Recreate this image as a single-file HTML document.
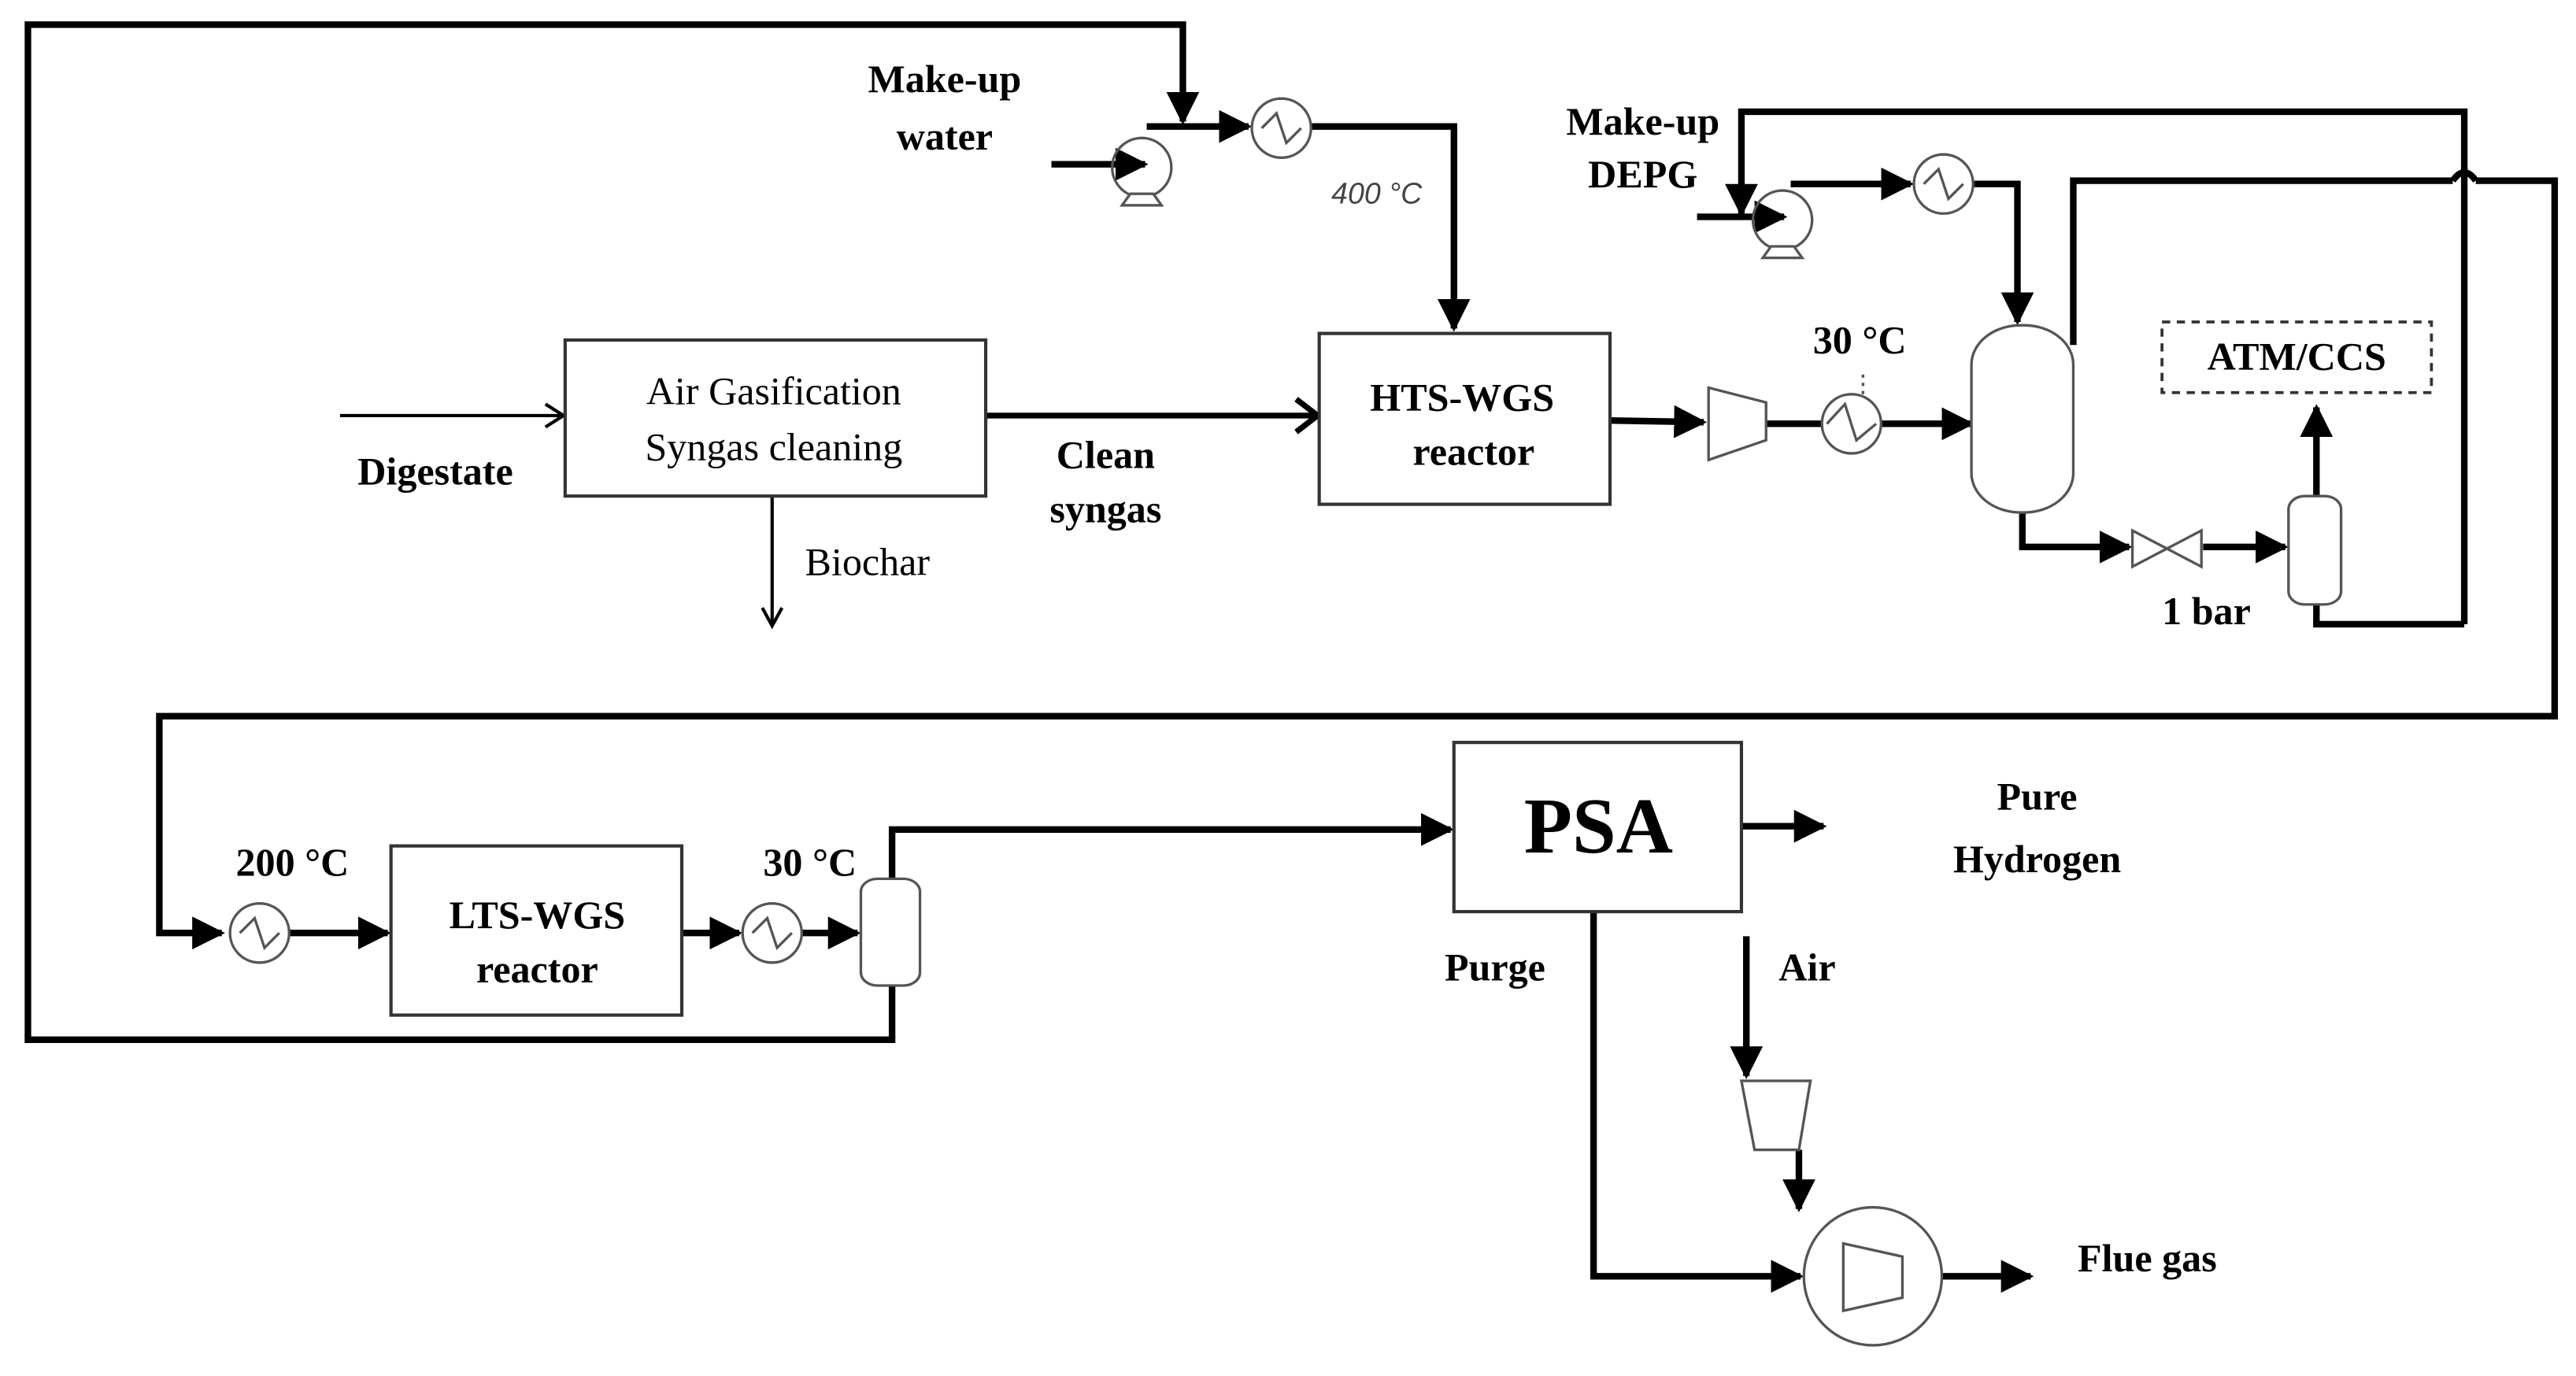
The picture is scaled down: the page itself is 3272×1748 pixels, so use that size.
<!DOCTYPE html>
<html><head><meta charset="utf-8"><style>html,body{margin:0;padding:0;background:#fff}svg{display:block}</style></head><body>
<svg width="3272" height="1748" viewBox="0 0 1568 837.7" preserveAspectRatio="none" xmlns="http://www.w3.org/2000/svg" font-family="'Liberation Serif',serif">
<defs>
<marker id="a" viewBox="0 0 10 10" refX="9" refY="5" markerWidth="5" markerHeight="5" orient="auto" markerUnits="strokeWidth"><path d="M0,0L10,5L0,10z" fill="#000"/></marker>
</defs>
<g fill="none" stroke="#000" stroke-width="4" stroke-linejoin="miter">
<polyline points="543,600 543,633 17,633 17,15 720,15 720,74" marker-end="url(#a)"/>
<line x1="640" y1="100" x2="697" y2="100" marker-end="url(#a)"/>
<polyline points="698,77 760,77" marker-end="url(#a)"/>
<polyline points="798,77 885,77 885,200" marker-end="url(#a)"/>
<line x1="980" y1="256" x2="1037" y2="257" marker-end="url(#a)"/>
<line x1="1075" y1="258" x2="1110" y2="258"/>
<line x1="1145" y1="258" x2="1200" y2="258" marker-end="url(#a)"/>
<polyline points="1500,380 1500,68 1060,68 1060,130" marker-end="url(#a)"/>
<line x1="1033" y1="132" x2="1086" y2="132" marker-end="url(#a)"/>
<line x1="1090" y1="112" x2="1163" y2="112" marker-end="url(#a)"/>
<polyline points="1201,112 1228,112 1228,196" marker-end="url(#a)"/>
<polyline points="1262,210 1262,110 1493,110"/>
<path d="M1493,110 Q1500,100 1507,110"/>
<polyline points="1507,110 1555,110 1555,436 97,436 97,568 135,568" marker-end="url(#a)"/>
<polyline points="1231,312 1231,333 1296,333" marker-end="url(#a)"/>
<line x1="1341" y1="333" x2="1391" y2="333" marker-end="url(#a)"/>
<polyline points="1410,368 1410,380 1500,380"/>
<line x1="1410" y1="302" x2="1410" y2="248" marker-end="url(#a)"/>
<line x1="176" y1="568" x2="236" y2="568" marker-end="url(#a)"/>
<line x1="415" y1="568" x2="450" y2="568" marker-end="url(#a)"/>
<line x1="488" y1="568" x2="522" y2="568" marker-end="url(#a)"/>
<polyline points="543,535 543,505 883,505" marker-end="url(#a)"/>
<line x1="1060" y1="503" x2="1110" y2="503" marker-end="url(#a)"/>
<polyline points="970,555 970,777 1096,777" marker-end="url(#a)"/>
<line x1="1063" y1="570" x2="1063" y2="655" marker-end="url(#a)"/>
<line x1="1095" y1="700" x2="1095" y2="736" marker-end="url(#a)"/>
<line x1="1182" y1="777" x2="1236" y2="777" marker-end="url(#a)"/>
</g>
<g fill="none" stroke="#000" stroke-width="2">
<line x1="207" y1="253" x2="342" y2="253"/><path d="M332,246L343,253L332,260"/>
<line x1="470" y1="302" x2="470" y2="380"/><path d="M464,370L470,381L476,370"/>
<line x1="600" y1="253" x2="801" y2="253" stroke-width="3.5"/><path d="M789,243L802,253L789,263" stroke-width="3.5"/>
</g>
<g fill="#fff" stroke="#333" stroke-width="2">
<rect x="344" y="207" width="256" height="95"/>
<rect x="803" y="203" width="177" height="104"/>
<rect x="238" y="515" width="177" height="103"/>
<rect x="885" y="452" width="175" height="103"/>
<rect x="1316" y="196" width="164" height="43" stroke-dasharray="5,4" stroke-width="1.8"/>
</g>
<g fill="none" stroke="#555" stroke-width="1.6">
<circle cx="695" cy="102" r="18"/><path d="M683,125L707,125L702,118L688,118z" fill="#fff"/>
<circle cx="780" cy="78" r="18" fill="#fff"/><path d="M768,78L777,69L783,87L792,78"/>
<circle cx="1085" cy="134" r="18"/><path d="M1073,157L1097,157L1092,150L1078,150z" fill="#fff"/>
<circle cx="1183" cy="112" r="18" fill="#fff"/><path d="M1171,112L1180,103L1186,121L1195,112"/>
<path d="M1040,236L1075,245L1075,268L1040,280z" fill="#fff"/>
<circle cx="1127" cy="258" r="18" fill="#fff"/><path d="M1112,258L1123,246L1130,268L1142,258"/>
<line x1="1134" y1="228" x2="1134" y2="240" stroke-dasharray="2,3"/>
<rect x="1200" y="198" width="62" height="114" rx="30" ry="24" fill="#fff"/>
<path d="M1298,323L1340,345L1340,323L1298,345z" fill="#fff"/>
<rect x="1393" y="302" width="32" height="66" rx="10" ry="8" fill="#fff"/>
<circle cx="158" cy="568" r="18" fill="#fff"/><path d="M146,568L155,559L161,577L170,568"/>
<circle cx="470" cy="568" r="18" fill="#fff"/><path d="M458,568L467,559L473,577L482,568"/>
<rect x="524" y="535" width="36" height="65" rx="10" ry="8" fill="#fff"/>
<path d="M1060,658L1102,658L1095,700L1068,700z" fill="#fff"/>
<circle cx="1140" cy="777" r="42" fill="#fff"/><path d="M1122,757L1158,765L1158,790L1122,798z"/>
</g>
<g fill="#000" font-weight="bold" font-size="24" text-anchor="middle">
<text x="575" y="56">Make-up</text><text x="575" y="91">water</text>
<text x="1000" y="82">Make-up</text><text x="1000" y="114">DEPG</text>
<text x="265" y="295">Digestate</text>
<text x="673" y="285">Clean</text><text x="673" y="318">syngas</text>
<text x="890" y="250">HTS-WGS</text><text x="897" y="283">reactor</text>
<text x="1132" y="215">30 °C</text>
<text x="1398" y="225">ATM/CCS</text>
<text x="1343" y="380">1 bar</text>
<text x="178" y="533">200 °C</text>
<text x="493" y="533">30 °C</text>
<text x="327" y="565">LTS-WGS</text><text x="327" y="598">reactor</text>
<text x="973" y="519" font-size="48">PSA</text>
<text x="1240" y="493">Pure</text><text x="1240" y="531">Hydrogen</text>
<text x="910" y="597">Purge</text>
<text x="1100" y="597">Air</text>
<text x="1307" y="774">Flue gas</text>
</g>
<g fill="#000" font-size="24" text-anchor="middle">
<text x="471" y="246">Air Gasification</text>
<text x="471" y="280">Syngas cleaning</text>
<text x="528" y="350">Biochar</text>
</g>
<text x="838" y="124" font-family="'Liberation Sans',sans-serif" font-style="italic" font-size="18" fill="#444" text-anchor="middle">400 °C</text>
</svg>
</body></html>
